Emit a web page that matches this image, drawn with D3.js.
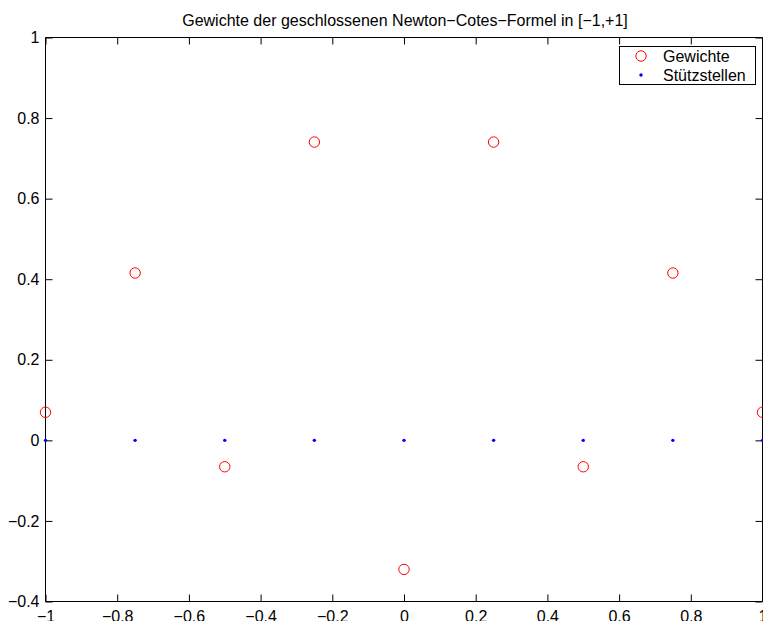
<!DOCTYPE html>
<html>
<head>
<meta charset="utf-8">
<script src="https://cdn.jsdelivr.net/npm/d3@7"></script>
<style>
  html, body { margin: 0; padding: 0; background: #fff; }
  svg { display: block; }
  text { font-family: "Liberation Sans", Arial, Helvetica, sans-serif; }
</style>
</head>
<body>
<svg id="chart" width="763" height="621"></svg>
<script>
// Data
const nodes = [-1, -0.75, -0.5, -0.25, 0, 0.25, 0.5, 0.75, 1];
const weights = [0.0698, 0.4154, -0.0655, 0.7405, -0.3203, 0.7405, -0.0655, 0.4154, 0.0698];
const xTicks = [-1, -0.8, -0.6, -0.4, -0.2, 0, 0.2, 0.4, 0.6, 0.8, 1];
const yTicks = [-0.4, -0.2, 0, 0.2, 0.4, 0.6, 0.8, 1];
const legendLabels = ["Gewichte", "Stützstellen"];
const titleText = "Gewichte der geschlossenen Newton\u2212Cotes\u2212Formel in [\u22121,+1]";

const svg = d3.select("#chart");
const L = 45.5, R = 762.5, T = 37.5, B = 601.5;
const x = d3.scaleLinear().domain([-1, 1]).range([L, R]);
const y = d3.scaleLinear().domain([-0.4, 1]).range([B, T]);
const fmt = d => (d === 0 ? "0" : String(+d.toFixed(1)).replace("-", "\u2212"));
const fs = 16;
const tickLen = 7;

// Axes (box with inward ticks)
const axB = d3.axisBottom(x).tickValues(xTicks).tickSize(-tickLen).tickFormat(fmt).tickPadding(9);
const axT = d3.axisTop(x).tickValues(xTicks).tickSize(-tickLen).tickFormat("");
const axL = d3.axisLeft(y).tickValues(yTicks).tickSize(-tickLen).tickFormat(fmt).tickPadding(6);
const axR = d3.axisRight(y).tickValues(yTicks).tickSize(-tickLen).tickFormat("");

function style(g) {
  g.select(".domain").attr("stroke", "#000").attr("stroke-width", 1);
  g.selectAll(".tick line").attr("stroke", "#000").attr("stroke-width", 1);
  g.selectAll(".tick text").attr("fill", "#000").style("font-size", fs + "px")
    .style("font-family", '"Liberation Sans", Arial, sans-serif');
}
svg.append("g").attr("transform", `translate(0,${B})`).call(axB).call(style).call(g => g.select(".domain").attr("d", `M${L},0H${R}`));
svg.append("g").attr("transform", `translate(0,${T})`).call(axT).call(style).call(g => g.select(".domain").attr("d", `M${L},0H${R}`));
svg.append("g").attr("transform", `translate(${L},0)`).call(axL).call(style).call(g => g.select(".domain").attr("d", `M0,${B}V${T}`));
svg.append("g").attr("transform", `translate(${R},0)`).call(axR).call(style).call(g => g.select(".domain").attr("d", `M0,${B}V${T}`));

// Title
svg.append("text").attr("x", (L + R) / 2 + 1).attr("y", 26).attr("text-anchor", "middle")
  .style("font-size", fs + "px").attr("fill", "#000").text(titleText);

// Stützstellen (blue dots at y=0)
svg.append("g").selectAll("circle").data(nodes).join("circle")
  .attr("cx", d => x(d)).attr("cy", y(0)).attr("r", 1.7).attr("fill", "#0000ff");

// Gewichte (red open circles)
svg.append("g").selectAll("circle").data(nodes).join("circle")
  .attr("cx", d => x(d)).attr("cy", (d, i) => y(weights[i])).attr("r", 5.2)
  .attr("fill", "none").attr("stroke", "#ff0000").attr("stroke-width", 1);

// Legend
const lg = svg.append("g");
lg.append("rect").attr("x", 619.5).attr("y", 46.5).attr("width", 136).attr("height", 38)
  .attr("fill", "#fff").attr("stroke", "#000").attr("stroke-width", 1);
lg.append("circle").attr("cx", 641).attr("cy", 56).attr("r", 5.2)
  .attr("fill", "none").attr("stroke", "#ff0000").attr("stroke-width", 1);
lg.append("circle").attr("cx", 641).attr("cy", 75).attr("r", 1.7).attr("fill", "#0000ff");
lg.selectAll("text").data(legendLabels).join("text")
  .attr("x", 663).attr("y", (d, i) => 56 + i * 19).attr("dy", "0.35em")
  .style("font-size", fs + "px").attr("fill", "#000").text(d => d);
</script>
</body>
</html>
